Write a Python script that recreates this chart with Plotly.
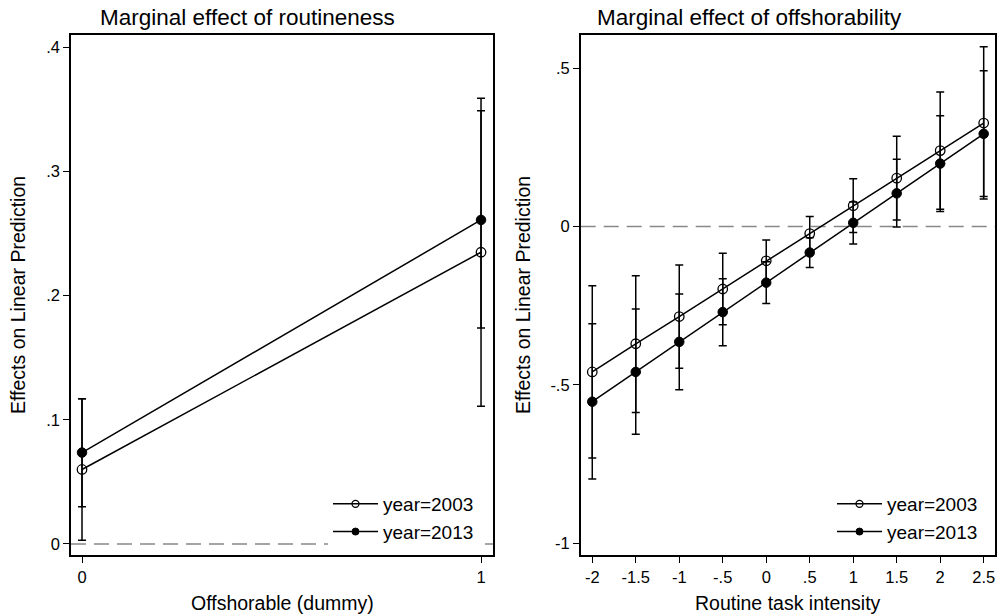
import plotly.graph_objects as go

# ---- data ----
left_x = [0, 1]
left_2003 = [0.060, 0.235]
left_2003_hi = [0.117, 0.359]
left_2003_lo = [0.003, 0.111]
left_2013 = [0.0736, 0.261]
left_2013_hi = [0.117, 0.349]
left_2013_lo = [0.030, 0.174]

right_x = [-2, -1.5, -1, -0.5, 0, 0.5, 1, 1.5, 2, 2.5]
right_2003 = [-0.459, -0.370, -0.284, -0.197, -0.108, -0.022, 0.066, 0.153, 0.240, 0.327]
right_2003_hi = [-0.187, -0.155, -0.121, -0.084, -0.042, 0.032, 0.151, 0.285, 0.425, 0.568]
right_2003_lo = [-0.731, -0.587, -0.447, -0.310, -0.174, -0.076, -0.019, 0.021, 0.055, 0.087]
right_2013 = [-0.553, -0.459, -0.364, -0.270, -0.177, -0.082, 0.012, 0.105, 0.199, 0.293]
right_2013_hi = [-0.307, -0.260, -0.213, -0.165, -0.111, -0.035, 0.078, 0.213, 0.350, 0.492]
right_2013_lo = [-0.797, -0.656, -0.515, -0.376, -0.243, -0.129, -0.055, -0.001, 0.048, 0.095]

left_yticks = [0, 0.1, 0.2, 0.3, 0.4]
left_yticktext = ["0", ".1", ".2", ".3", ".4"]
right_yticks = [-1, -0.5, 0, 0.5]
right_yticktext = ["-1", "-.5", "0", ".5"]
right_xticktext = ["-2", "-1.5", "-1", "-.5", "0", ".5", "1", "1.5", "2", "2.5"]

FONT = "Liberation Sans, Arial, sans-serif"
W, H = 998, 616


def err(vals, hi, lo):
    return dict(type="data", symmetric=False,
                array=[h - v for h, v in zip(hi, vals)],
                arrayminus=[v - l for l, v in zip(lo, vals)],
                color="black", thickness=1.5, width=4)


def marker(filled, size):
    if filled:
        return dict(symbol="circle", size=size, color="black", line=dict(color="black", width=1))
    return dict(symbol="circle-open", size=size, color="black", line=dict(color="black", width=1.3))


fig = go.Figure()


def add_series(x, y, hi, lo, name, filled, xa, ya, leg):
    fig.add_trace(go.Scatter(
        x=x, y=y, name=name, mode="lines+markers", showlegend=False,
        line=dict(color="black", width=1.5),
        marker=marker(filled, 9.5),
        error_y=err(y, hi, lo), xaxis=xa, yaxis=ya))
    # legend entry with smaller marker (like the original)
    fig.add_trace(go.Scatter(
        x=[None], y=[None], name=name, mode="lines+markers", showlegend=True,
        line=dict(color="black", width=1.5), marker=marker(filled, 7),
        xaxis=xa, yaxis=ya, legend=leg))


add_series(left_x, left_2003, left_2003_hi, left_2003_lo, "year=2003", False, "x", "y", "legend")
add_series(left_x, left_2013, left_2013_hi, left_2013_lo, "year=2013", True, "x", "y", "legend")
add_series(right_x, right_2003, right_2003_hi, right_2003_lo, "year=2003", False, "x2", "y2", "legend2")
add_series(right_x, right_2013, right_2013_hi, right_2013_lo, "year=2013", True, "x2", "y2", "legend2")

ydom = [1 - 555 / H, 1 - 35 / H]
axis_common = dict(showline=True, linecolor="black", linewidth=1.5, mirror=True,
                   ticks="outside", ticklen=6, tickwidth=1.2, tickcolor="black",
                   showgrid=False, zeroline=False,
                   tickfont=dict(family=FONT, size=16.5, color="black"))

legend_common = dict(bgcolor="white", borderwidth=0, xanchor="left", yanchor="bottom",
                     itemwidth=45, font=dict(family=FONT, size=19, color="black"), tracegroupgap=0)

TITLE_SIZE = 19.5


def ann(text, x, y, size, angle=0):
    return dict(text=text, x=x / W, y=1 - y / H, xref="paper", yref="paper",
                xanchor="center", yanchor="middle", showarrow=False, textangle=angle,
                font=dict(family=FONT, size=size, color="black"))


fig.update_layout(
    width=W, height=H, margin=dict(l=0, r=0, t=0, b=0),
    paper_bgcolor="white", plot_bgcolor="white",
    font=dict(family=FONT, color="black"),
    xaxis=dict(domain=[71 / W, 493 / W], range=[-0.0276, 1.03], tickvals=left_x,
               ticktext=["0", "1"], anchor="y", **axis_common),
    yaxis=dict(domain=ydom, range=[-0.0089, 0.41], tickvals=left_yticks, ticktext=left_yticktext,
               anchor="x", **axis_common),
    xaxis2=dict(domain=[580.7 / W, 995 / W], range=[-2.133, 2.63], tickvals=right_x,
                ticktext=right_xticktext, anchor="y2", **axis_common),
    yaxis2=dict(domain=ydom, range=[-1.037, 0.605], tickvals=right_yticks, ticktext=right_yticktext,
                anchor="x2", **axis_common),
    legend=dict(x=328 / W, y=1 - 551 / H, **legend_common),
    legend2=dict(x=832 / W, y=1 - 551 / H, **legend_common),
    shapes=[
        dict(type="line", xref="x domain", yref="y", x0=0, x1=1, y0=0, y1=0,
             line=dict(color="#888888", width=1.5, dash="15px,8px"), layer="below"),
        dict(type="line", xref="x2 domain", yref="y2", x0=0, x1=1, y0=0, y1=0,
             line=dict(color="#888888", width=1.5, dash="15px,8px"), layer="below"),
    ],
    annotations=[
        ann("Marginal effect of routineness", 247, 17, 22.5),
        ann("Marginal effect of offshorability", 749, 17, 22.5),
        ann("Offshorable (dummy)", 282, 603, TITLE_SIZE),
        ann("Routine task intensity", 788, 603, TITLE_SIZE),
        ann("Effects on Linear Prediction", 18, 295, TITLE_SIZE, -90),
        ann("Effects on Linear Prediction", 523, 295, TITLE_SIZE, -90),
    ],
)

fig.write_html("out.html")
